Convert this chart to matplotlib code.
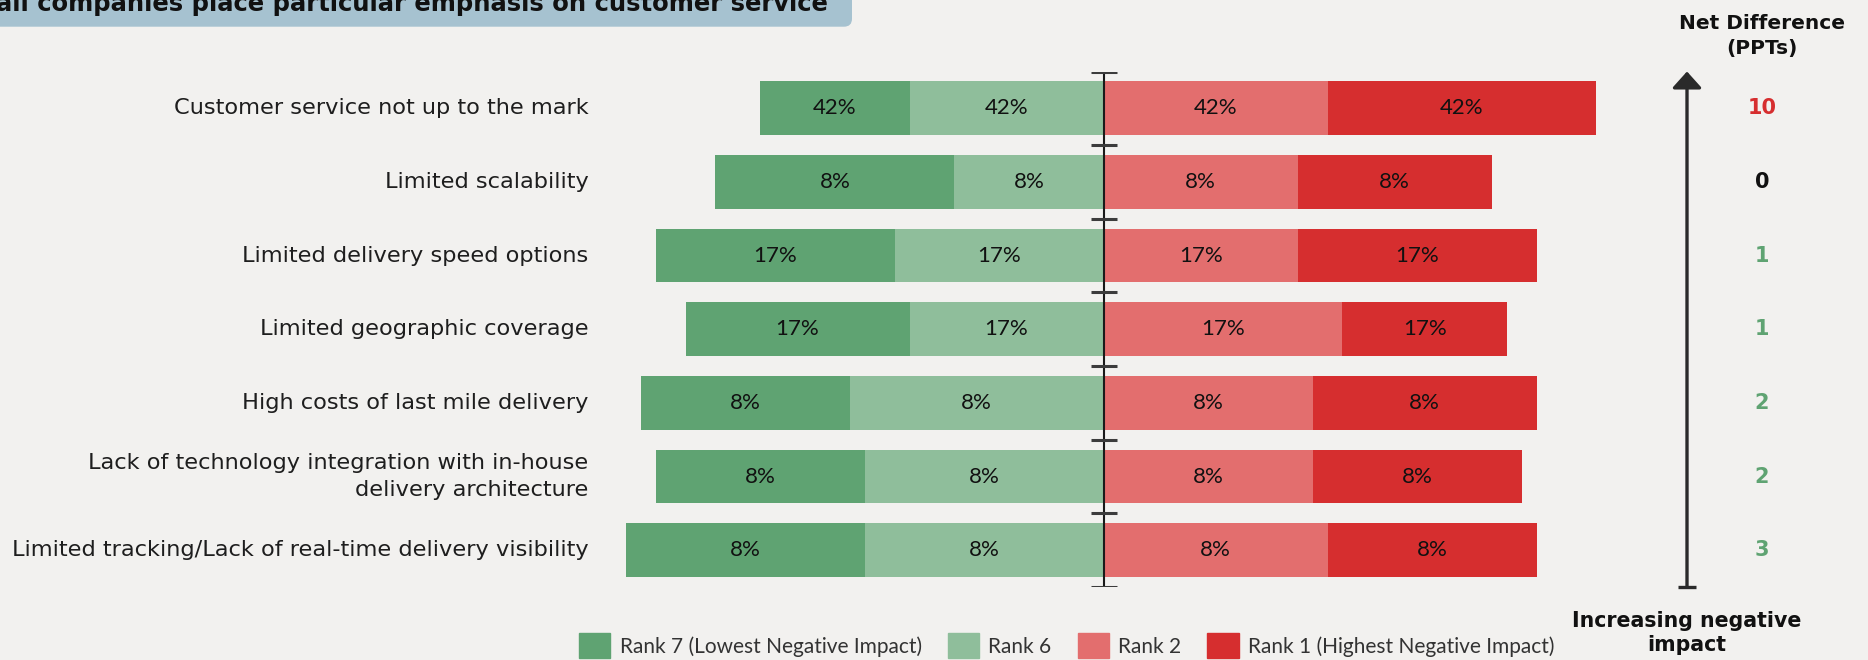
import matplotlib.pyplot as plt
import matplotlib.transforms as mtransforms
from matplotlib.patches import FancyBboxPatch, Patch
import numpy as np

categories = [
    "Customer service not up to the mark",
    "Limited scalability",
    "Limited delivery speed options",
    "Limited geographic coverage",
    "High costs of last mile delivery",
    "Lack of technology integration with in-house\ndelivery architecture",
    "Limited tracking/Lack of real-time delivery visibility",
]
rank7 = [10, 16, 16, 15, 14, 14, 16]
rank6 = [13, 10, 14, 13, 17, 16, 16]
rank2 = [15, 13, 13, 16, 14, 14, 15]
rank1 = [18, 13, 16, 11, 15, 14, 14]
share_labels = ["42%", "8%", "17%", "17%", "8%", "8%", "8%"]
series_names = ["Rank 7 (Lowest Negative Impact)", "Rank 6", "Rank 2",
                "Rank 1 (Highest Negative Impact)"]
title = "all companies place particular emphasis on customer service"

BG = "#f2f1ef"
GREEN_DARK = "#5fa372"
GREEN_LIGHT = "#8fbe9b"
RED_LIGHT = "#e36e6e"
RED_DARK = "#d62e2f"
TEXT = "#1e1e1e"

W, H = 1868, 660
fig = plt.figure(figsize=(W / 100, H / 100), dpi=100, facecolor=BG)

# axes placed so that one percentage point is ~15 px and the divider sits at x=1104
center_px, unit_px = 1103.6, 14.93
x_lim = 40
left_px = center_px - x_lim * unit_px
ax = fig.add_axes([left_px / W, 73 / H, 2 * x_lim * unit_px / W, 515.5 / H])
ax.set_xlim(-x_lim, x_lim)
ax.set_ylim(6.5, -0.5)
ax.axis("off")

y = np.arange(len(categories))
r7, r6, r2, r1 = map(np.array, (rank7, rank6, rank2, rank1))
bh = 0.73
ax.barh(y, r7, left=-(r6 + r7), height=bh, color=GREEN_DARK, label=series_names[0])
ax.barh(y, r6, left=-r6, height=bh, color=GREEN_LIGHT, label=series_names[1])
ax.barh(y, r2, left=0, height=bh, color=RED_LIGHT, label=series_names[2])
ax.barh(y, r1, left=r2, height=bh, color=RED_DARK, label=series_names[3])

for i, lab in enumerate(share_labels):
    centers = [-(r6[i] + r7[i] / 2), -r6[i] / 2, r2[i] / 2, r2[i] + r1[i] / 2]
    for cx in centers:
        ax.text(cx, i, lab, ha="center", va="center", fontsize=16,
                family="Lato", color="#111111")

# divider with small cross ticks between rows
ax.vlines(0, -0.5, 6.5, color="#1a1a1a", lw=1.5, zorder=3)
ax.hlines(np.arange(-0.5, 7, 1), -0.87, 0.87, color="#3c3c3c", lw=2.2, zorder=3)

# category labels
lab_tr = mtransforms.blended_transform_factory(fig.transFigure, ax.transData)
for i, cat in enumerate(categories):
    ax.text(588.5 / W, i, cat, transform=lab_tr, ha="right", va="center",
            multialignment="right", fontsize=16.2, color=TEXT, linespacing=1.45)

# net difference column
net = (r2 + r1) - (r7 + r6)
for i, d in enumerate(net):
    col = RED_DARK if d > 0 else (GREEN_DARK if d < 0 else "#111111")
    ax.text(1762 / W, i, str(abs(d)), transform=lab_tr, ha="center", va="center",
            fontsize=15, fontweight="bold", color=col)

fig.text(1762 / W, 1 - 36 / H, "Net Difference\n(PPTs)", ha="center", va="center",
         fontsize=14.5, fontweight="bold", color="#111111", linespacing=1.4)

# impact arrow
arrow_x = 1687 / W
ax.annotate("", xy=(arrow_x, -0.5), xytext=(arrow_x, 6.5),
            xycoords=lab_tr, textcoords=lab_tr,
            arrowprops=dict(arrowstyle="-|>,head_width=0.45,head_length=0.5",
                            mutation_scale=20, lw=2.4, color="#2a2a2a",
                            shrinkA=0, shrinkB=0))
ax.plot([arrow_x - 9 / W, arrow_x + 9 / W], [6.5, 6.5], transform=lab_tr,
        color="#2a2a2a", lw=2.4, solid_capstyle="butt", clip_on=False)
fig.text(arrow_x, 1 - 633 / H, "Increasing negative\nimpact", ha="center", va="center",
         fontsize=14.8, fontweight="bold", color="#111111", linespacing=1.3)

# title strip at the top edge
fig.patches.append(FancyBboxPatch((-0.2, (H - 26.7) / 100), 8.72, 1.0,
                                  boxstyle="round,pad=0,rounding_size=0.08",
                                  transform=fig.dpi_scale_trans,
                                  facecolor="#a6c2d0", edgecolor="none"))
fig.text(-4 / W, 1 - 11.5 / H, title, ha="left", va="baseline",
         fontsize=17.5, fontweight="bold", color="#111111")

# legend along the bottom edge
handles = [Patch(color=c) for c in (GREEN_DARK, GREEN_LIGHT, RED_LIGHT, RED_DARK)]
fig.legend(handles, series_names, loc="upper left", bbox_to_anchor=(579 / W, 1 - 633 / H),
           ncol=4, frameon=False, borderpad=0, borderaxespad=0,
           handlelength=1.5, handleheight=1.5, handletextpad=0.45, columnspacing=1.25,
           prop=dict(family="Lato", size=15), labelcolor="#333333")

fig.savefig("out.png", dpi=100, facecolor=BG)
